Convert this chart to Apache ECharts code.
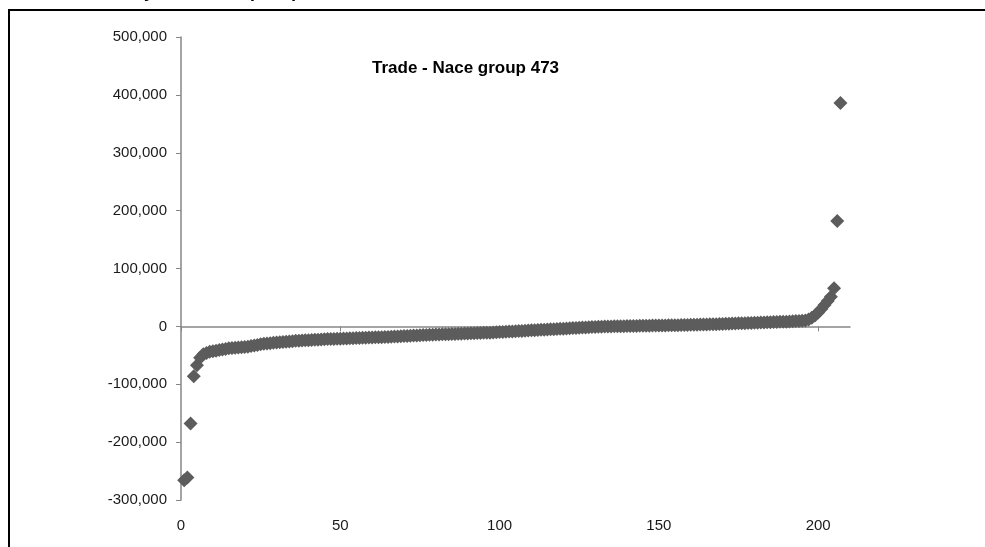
<!DOCTYPE html>
<html>
<head>
<meta charset="utf-8">
<script src="https://cdn.jsdelivr.net/npm/echarts@6/dist/echarts.min.js"></script>
<style>html,body{margin:0;padding:0;background:#fff}#c{width:985px;height:547px}</style>
</head>
<body>
<div id="c"></div>
<script>
const chartTitle = "Trade - Nace group 473";
const clippedHeading = "Net result by size class (EUR)";
const xTickValues = [0, 50, 100, 150, 200];
const yTickMin = -300000, yTickMax = 500000, yTickStep = 100000;
const xMin = 0, xMax = 210;
const values = [
  -266000,-261000,-168000,-86000,-67000,-54000,-48000,-46000,-44000,-43000,
  -42000,-41000,-40000,-39000,-38000,-37500,-37000,-36500,-36000,-35500,
  -35000,-34000,-33000,-32000,-31000,-30000,-29500,-29000,-28500,-28000,
  -27500,-27000,-26500,-26000,-25500,-25000,-24700,-24400,-24100,-23800,
  -23500,-23200,-22900,-22600,-22300,-22000,-21800,-21600,-21400,-21200,
  -21000,-20800,-20600,-20400,-20200,-20000,-19800,-19600,-19400,-19200,
  -19000,-18800,-18600,-18400,-18200,-18000,-17700,-17400,-17100,-16800,
  -16500,-16200,-15900,-15600,-15300,-15000,-14800,-14600,-14400,-14200,
  -14000,-13800,-13600,-13400,-13200,-13000,-12800,-12600,-12400,-12200,
  -12000,-11800,-11600,-11400,-11200,-11000,-10800,-10500,-10200,-9900,
  -9600,-9300,-9000,-8700,-8400,-8100,-7800,-7500,-7200,-6900,
  -6600,-6300,-6000,-5700,-5400,-5100,-4800,-4500,-4200,-3900,
  -3600,-3300,-3000,-2700,-2400,-2100,-1800,-1500,-1200,-900,
  -700,-500,-300,-100,0,100,200,300,400,500,
  600,700,800,900,1000,1100,1200,1300,1400,1500,
  1600,1700,1800,1900,2000,2100,2200,2350,2500,2650,
  2800,2950,3100,3250,3400,3550,3700,3850,4000,4200,
  4400,4600,4800,5000,5200,5400,5600,5800,6000,6200,
  6400,6600,6800,7000,7200,7400,7600,7800,8000,8200,
  8500,8800,9100,9400,9800,10300,
  12000,15000,19000,24000,30000,37000,44000,51000,66000,182000,386000
];
const points = values.map((v, i) => [i + 1, v]);

const axisGray = '#868686';
const fontFam = '"Liberation Sans", Arial, sans-serif';
const chart = echarts.init(document.getElementById('c'), null, {renderer: 'canvas'});
chart.setOption({
  animation: false,
  backgroundColor: '#fff',
  grid: {left: 181, right: 135, top: 37, bottom: 47, containLabel: false},
  graphic: [
    {type: 'polyline', shape: {points: [[9, 560], [9, 10], [1000, 10]]},
     style: {stroke: '#000', lineWidth: 2, fill: null}, z: 0},
    {type: 'text', x: 45, y: 1, style: {text: clippedHeading, font: 'bold 18px ' + fontFam,
     fill: '#000', textVerticalAlign: 'bottom', verticalAlign: 'bottom'}},
    {type: 'text', x: 372, y: 68, style: {text: chartTitle, font: 'bold 17px ' + fontFam,
     fill: '#000', verticalAlign: 'middle'}}
  ],
  xAxis: [
    {type: 'value', min: xMin, max: xMax, interval: 50,
     axisLine: {show: true, onZero: true, lineStyle: {color: axisGray, width: 1.5}},
     axisTick: {show: true, length: 5, lineStyle: {color: axisGray}, customValues: xTickValues},
     axisLabel: {show: false}, splitLine: {show: false}},
    {type: 'value', min: xMin, max: xMax, interval: 50, position: 'bottom',
     axisLine: {show: false, onZero: false}, axisTick: {show: false},
     axisLabel: {show: true, margin: 18, color: '#1a1a1a', fontSize: 15, fontFamily: fontFam,
       customValues: xTickValues},
     splitLine: {show: false}}
  ],
  yAxis: {type: 'value', min: yTickMin, max: yTickMax, interval: yTickStep,
    axisLine: {show: true, lineStyle: {color: axisGray, width: 1.5}},
    axisTick: {show: true, length: 5, lineStyle: {color: axisGray}},
    axisLabel: {color: '#1a1a1a', fontSize: 15, fontFamily: fontFam, margin: 14,
      formatter: v => v.toLocaleString('en-US')},
    splitLine: {show: false}},
  series: [{type: 'scatter', xAxisIndex: 0, data: points, symbol: 'diamond', symbolSize: 14,
    itemStyle: {color: '#5c5c5c', opacity: 1}, z: 3}]
});
</script>
</body>
</html>
